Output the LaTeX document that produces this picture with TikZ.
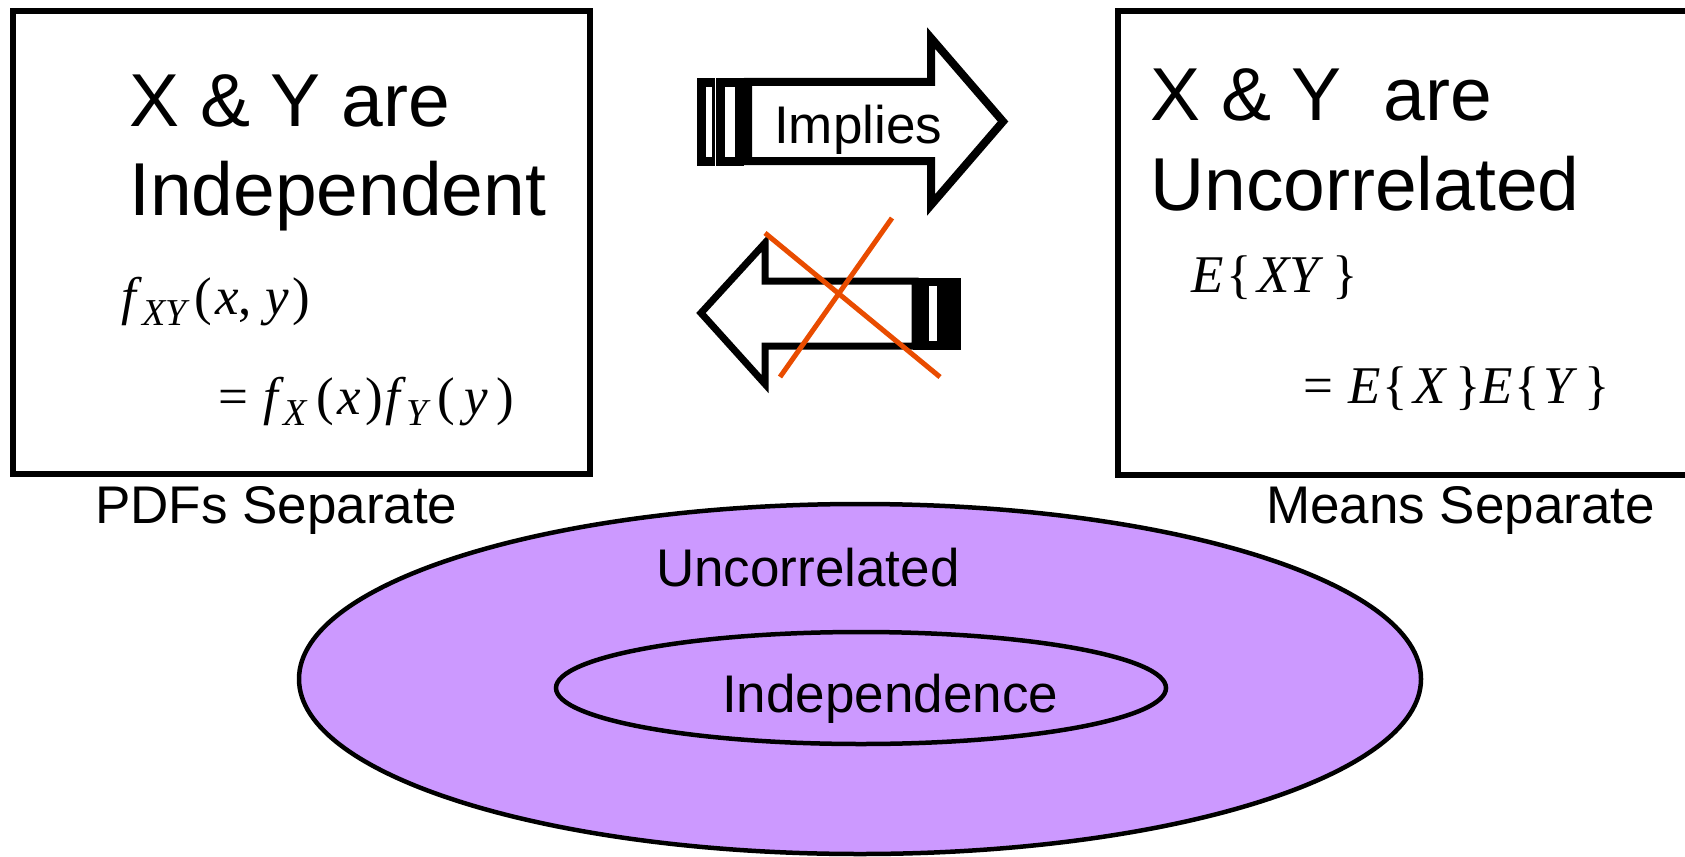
\documentclass[tikz,border=0pt]{standalone}
\usepackage{fontspec}
\setmainfont{Liberation Sans}
\newfontfamily\mathserif{Liberation Serif}
\definecolor{lilac}{RGB}{204,153,255}
\definecolor{crossred}{RGB}{233,76,0}
\newcommand{\titlefont}{\fontsize{75}{75}\selectfont}
\newcommand{\labelfont}{\fontsize{53}{53}\selectfont}
\newcommand{\eqfont}{\mathserif\fontsize{53}{53}\selectfont}
\newcommand{\subsc}[1]{\raisebox{-11pt}{\fontsize{38}{38}\selectfont\itshape #1}}
\begin{document}
\begin{tikzpicture}[x=1pt,y=-1pt,
  txt/.style={inner sep=0pt, anchor=base west},
  frame/.style={line width=5.5pt},
  outline/.style={line width=8pt, line join=miter, miter limit=10},
  cross/.style={crossred, line width=5pt}]
\useasboundingbox (0,0) rectangle (1685,856);
\fill[white] (0,0) rectangle (1685,856);

% left statement box
\draw[frame] (13,11) rectangle (590,474);
\node[txt] (indA) at (129,127) {\titlefont X \& Y are};
\node[txt] (indB) at (129,215) {\titlefont Independent};
\node[txt] (pdfA) at (121,314) {\eqfont\textit{f}\subsc{XY}\kern8pt(\kern3pt\textit{x},\ \textit{y}\kern4pt)};
\node[txt] (pdfB) at (218,414) {\eqfont =\kern15pt\textit{f}\subsc{X}\kern9pt(\kern4pt\textit{x}\kern4pt)\kern3pt\textit{f}\subsc{Y}\kern10pt(\kern9pt\textit{y}\kern8pt)};
\node[txt] (pdfLbl) at (95,523) {\labelfont PDFs Separate};

% right statement box (runs off the right edge)
\draw[frame] (1700,11) -- (1118,11) -- (1118,475) -- (1700,475);
\node[txt] (corA) at (1150,121) {\titlefont X \& Y\ \ are};
\node[txt] (corB) at (1150,210) {\titlefont Uncorrelated};
\node[txt] (meanA) at (1191,292) {\eqfont\textit{E}\kern3pt\{\kern5pt\textit{XY}\kern9pt\}};
\node[txt] (meanB) at (1303,403) {\eqfont =\kern15pt\textit{E}\kern2pt\{\kern6pt\textit{X}\kern7pt\}\textit{E}\kern2pt\{\kern3pt\textit{Y}\kern7pt\}};
\node[txt] (meanLbl) at (1266,523) {\labelfont Means Separate};

% striped arrow pointing right
\fill[black] (697,78) rectangle (715,166);
\fill[white] (706,87) rectangle (712,157);
\fill[black] (716,78) rectangle (744,166);
\fill[white] (725,87) rectangle (735,157);
\draw[outline] (748,82) -- (931,82) -- (931,38) -- (1003,121.5)
  -- (931,205) -- (931,161) -- (748,161) -- cycle;
\node[txt] (impl) at (774,143) {\labelfont Implies};

% striped arrow pointing left, crossed out
\draw[outline, line width=7pt] (765,281) -- (915,281) -- (915,346) -- (765,346)
  -- (765,384) -- (701,313) -- (765,243) -- cycle;
\fill[black] (913,277.5) rectangle (961,349.5);
\fill[white] (929,286) rectangle (937,341);
\draw[cross] (765,233) -- (940,377);
\draw[cross] (892,218) -- (780,377);

% nested sets
\draw[fill=lilac, line width=4.5pt] (860,679) ellipse [x radius=561, y radius=175];
\draw[line width=4.5pt] (861,688) ellipse [x radius=305, y radius=56];
\node[txt] (setU) at (656,586) {\labelfont Uncorrelated};
\node[txt] (setI) at (722,712) {\labelfont Independence};
\end{tikzpicture}
\end{document}
